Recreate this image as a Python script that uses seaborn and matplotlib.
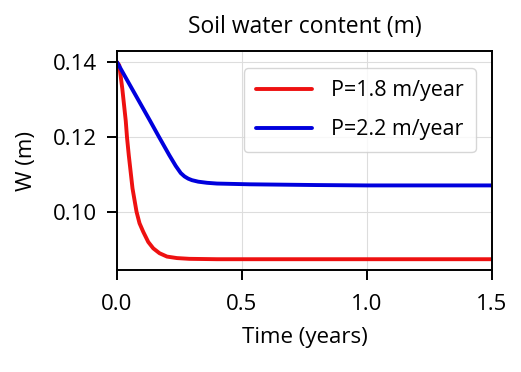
import matplotlib
matplotlib.use('Agg')
from matplotlib import pyplot as plt
import pandas as pd
import seaborn as sns

# Values
time_red = [0.0, 0.009, 0.021, 0.035, 0.04, 0.047, 0.062, 0.078, 0.09, 0.105,
            0.125, 0.145, 0.17, 0.2, 0.24, 0.29, 0.4, 0.6, 1.0, 1.5]
w_red = [0.1400, 0.1392, 0.1330, 0.1243, 0.1199, 0.1152, 0.1063, 0.1001, 0.0970, 0.0947,
         0.0920, 0.0903, 0.0890, 0.0881, 0.0877, 0.0875, 0.0874, 0.0874, 0.0874, 0.0874]

time_blue = [0.0, 0.054, 0.131, 0.165, 0.209, 0.235, 0.255, 0.27, 0.285, 0.3, 0.325,
             0.36, 0.4, 0.53, 0.8, 1.0, 1.5]
w_blue = [0.1400, 0.1336, 0.1245, 0.1204, 0.1152, 0.1123, 0.1104, 0.1095, 0.1089, 0.1085, 0.1081,
          0.1078, 0.1076, 0.1074, 0.1072, 0.1071, 0.1071]

labels = ['P=1.8 m/year', 'P=2.2 m/year']
colors = ['#ee1111', '#0000dd']

df = pd.concat([
    pd.DataFrame({'t': time_red, 'W': w_red, 'P': labels[0]}),
    pd.DataFrame({'t': time_blue, 'W': w_blue, 'P': labels[1]}),
])

sns.set_style('ticks')
plt.rcParams['font.family'] = ['Open Sans', 'DejaVu Sans']
plt.rcParams['text.color'] = 'black'
plt.rcParams['axes.labelcolor'] = 'black'

fig = plt.figure(figsize=(5.21, 3.72), dpi=100)
ax = fig.add_axes([0.2246, 0.274, 0.7196, 0.589])

sns.lineplot(data=df, x='t', y='W', hue='P', palette=colors, linewidth=2.8,
             sort=False, estimator=None, ax=ax)

ax.set_xlim(0, 1.5)
ax.set_ylim(0.0845, 0.143)
ax.set_xticks([0.0, 0.5, 1.0, 1.5])
ax.set_yticks([0.10, 0.12, 0.14])
ax.grid(True, color='#dddddd', linewidth=0.8)
for s in ax.spines.values():
    s.set_color('black')
    s.set_linewidth(1.4)
ax.tick_params(direction='out', length=7, width=1.4, pad=7.5, labelsize=16, colors='black')
ax.tick_params(axis='x', pad=10)

ax.set_title('Soil water content (m)', fontsize=16.5, pad=13, color='black')
ax.set_xlabel('Time (years)', fontsize=16, labelpad=9)
ax.set_ylabel('W (m)', fontsize=16, labelpad=11)

leg = ax.legend(loc='upper right', fontsize=15.5, frameon=True, handlelength=2.6,
                handletextpad=0.9, borderpad=0.55, labelspacing=0.85,
                bbox_to_anchor=(0.985, 0.97))
leg.get_frame().set_edgecolor('#cccccc')

fig.savefig('out.png', dpi=100)
